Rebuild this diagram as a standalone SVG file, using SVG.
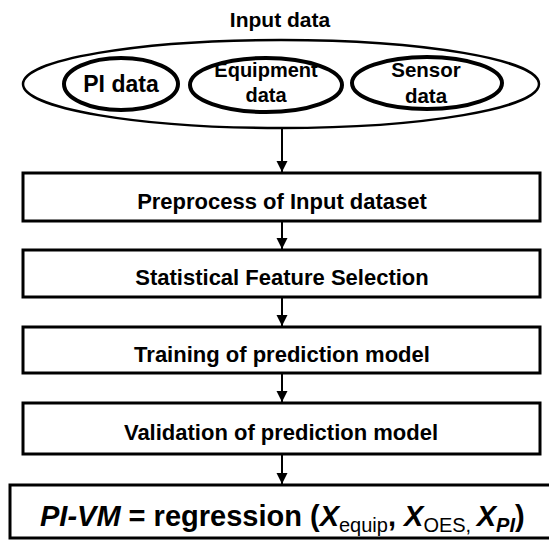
<svg xmlns="http://www.w3.org/2000/svg" width="549" height="540" viewBox="0 0 549 540">
<defs>
<style>
text{font-family:"Liberation Sans",Arial,sans-serif;font-weight:bold;fill:#000}
.box{fill:#fff;stroke:#000;stroke-width:3}
.in{fill:#fff;stroke:#000;stroke-width:4}
.conn line{stroke:#000;stroke-width:2;marker-end:url(#ah)}
.t22{font-size:22px;text-anchor:middle}
.sub{font-size:20px;font-weight:normal}
</style>
<marker id="ah" markerUnits="userSpaceOnUse" viewBox="0 0 12 12" markerWidth="12" markerHeight="12" refX="11" refY="6" orient="auto">
<path d="M0,0.5 L11,6 L0,11.5 z" fill="#000"/>
</marker>
</defs>
<rect width="549" height="540" fill="#fff"/>
<g id="input">
<text x="280" y="27" style="font-size:21px" text-anchor="middle">Input data</text>
<ellipse cx="281" cy="84" rx="258" ry="44" fill="#fff" stroke="#000" stroke-width="2.5"/>
</g>
<g id="pi">
<ellipse class="in" cx="121" cy="84" rx="57" ry="26"/>
<text x="121" y="92" style="font-size:23px" text-anchor="middle">PI data</text>
</g>
<g id="equip">
<ellipse class="in" cx="266" cy="85" rx="76" ry="27"/>
<text x="266" y="77" style="font-size:20px" text-anchor="middle">Equipment</text>
<text x="266" y="102" style="font-size:20px" text-anchor="middle">data</text>
</g>
<g id="sensor">
<ellipse class="in" cx="427" cy="83" rx="75" ry="26"/>
<text x="426" y="77" style="font-size:20.5px" text-anchor="middle">Sensor</text>
<text x="426" y="103" style="font-size:20.5px" text-anchor="middle">data</text>
</g>
<g id="preprocess">
<rect class="box" x="23" y="173" width="517" height="48"/>
<text class="t22" x="282" y="209">Preprocess of Input dataset</text>
</g>
<g id="feature">
<rect class="box" x="23" y="250" width="517" height="47"/>
<text class="t22" x="282" y="285">Statistical Feature Selection</text>
</g>
<g id="training">
<rect class="box" x="23" y="327" width="517" height="46"/>
<text class="t22" x="282" y="362">Training of prediction model</text>
</g>
<g id="validation">
<rect class="box" x="23" y="403" width="517" height="51"/>
<text class="t22" x="281" y="440">Validation of prediction model</text>
</g>
<g id="result">
<rect class="box" x="10" y="485" width="545" height="53"/>
<text x="40" y="526" style="font-size:29px"><tspan font-style="italic">PI-VM</tspan> = regression (<tspan font-style="italic">X</tspan><tspan class="sub" dy="6">equip</tspan><tspan dy="-6">, </tspan><tspan font-style="italic">X</tspan><tspan class="sub" dy="6">OES, </tspan><tspan font-style="italic" dy="-6">X</tspan><tspan style="font-size:20px" font-style="italic" dy="6">PI</tspan><tspan dy="-6">)</tspan></text>
</g>
<g id="connectors" class="conn">
<line x1="282" y1="128" x2="282" y2="172"/>
<line x1="282" y1="221" x2="282" y2="249"/>
<line x1="282" y1="297" x2="282" y2="326"/>
<line x1="282" y1="373" x2="282" y2="402"/>
<line x1="282" y1="454" x2="282" y2="484"/>
</g>
</svg>
